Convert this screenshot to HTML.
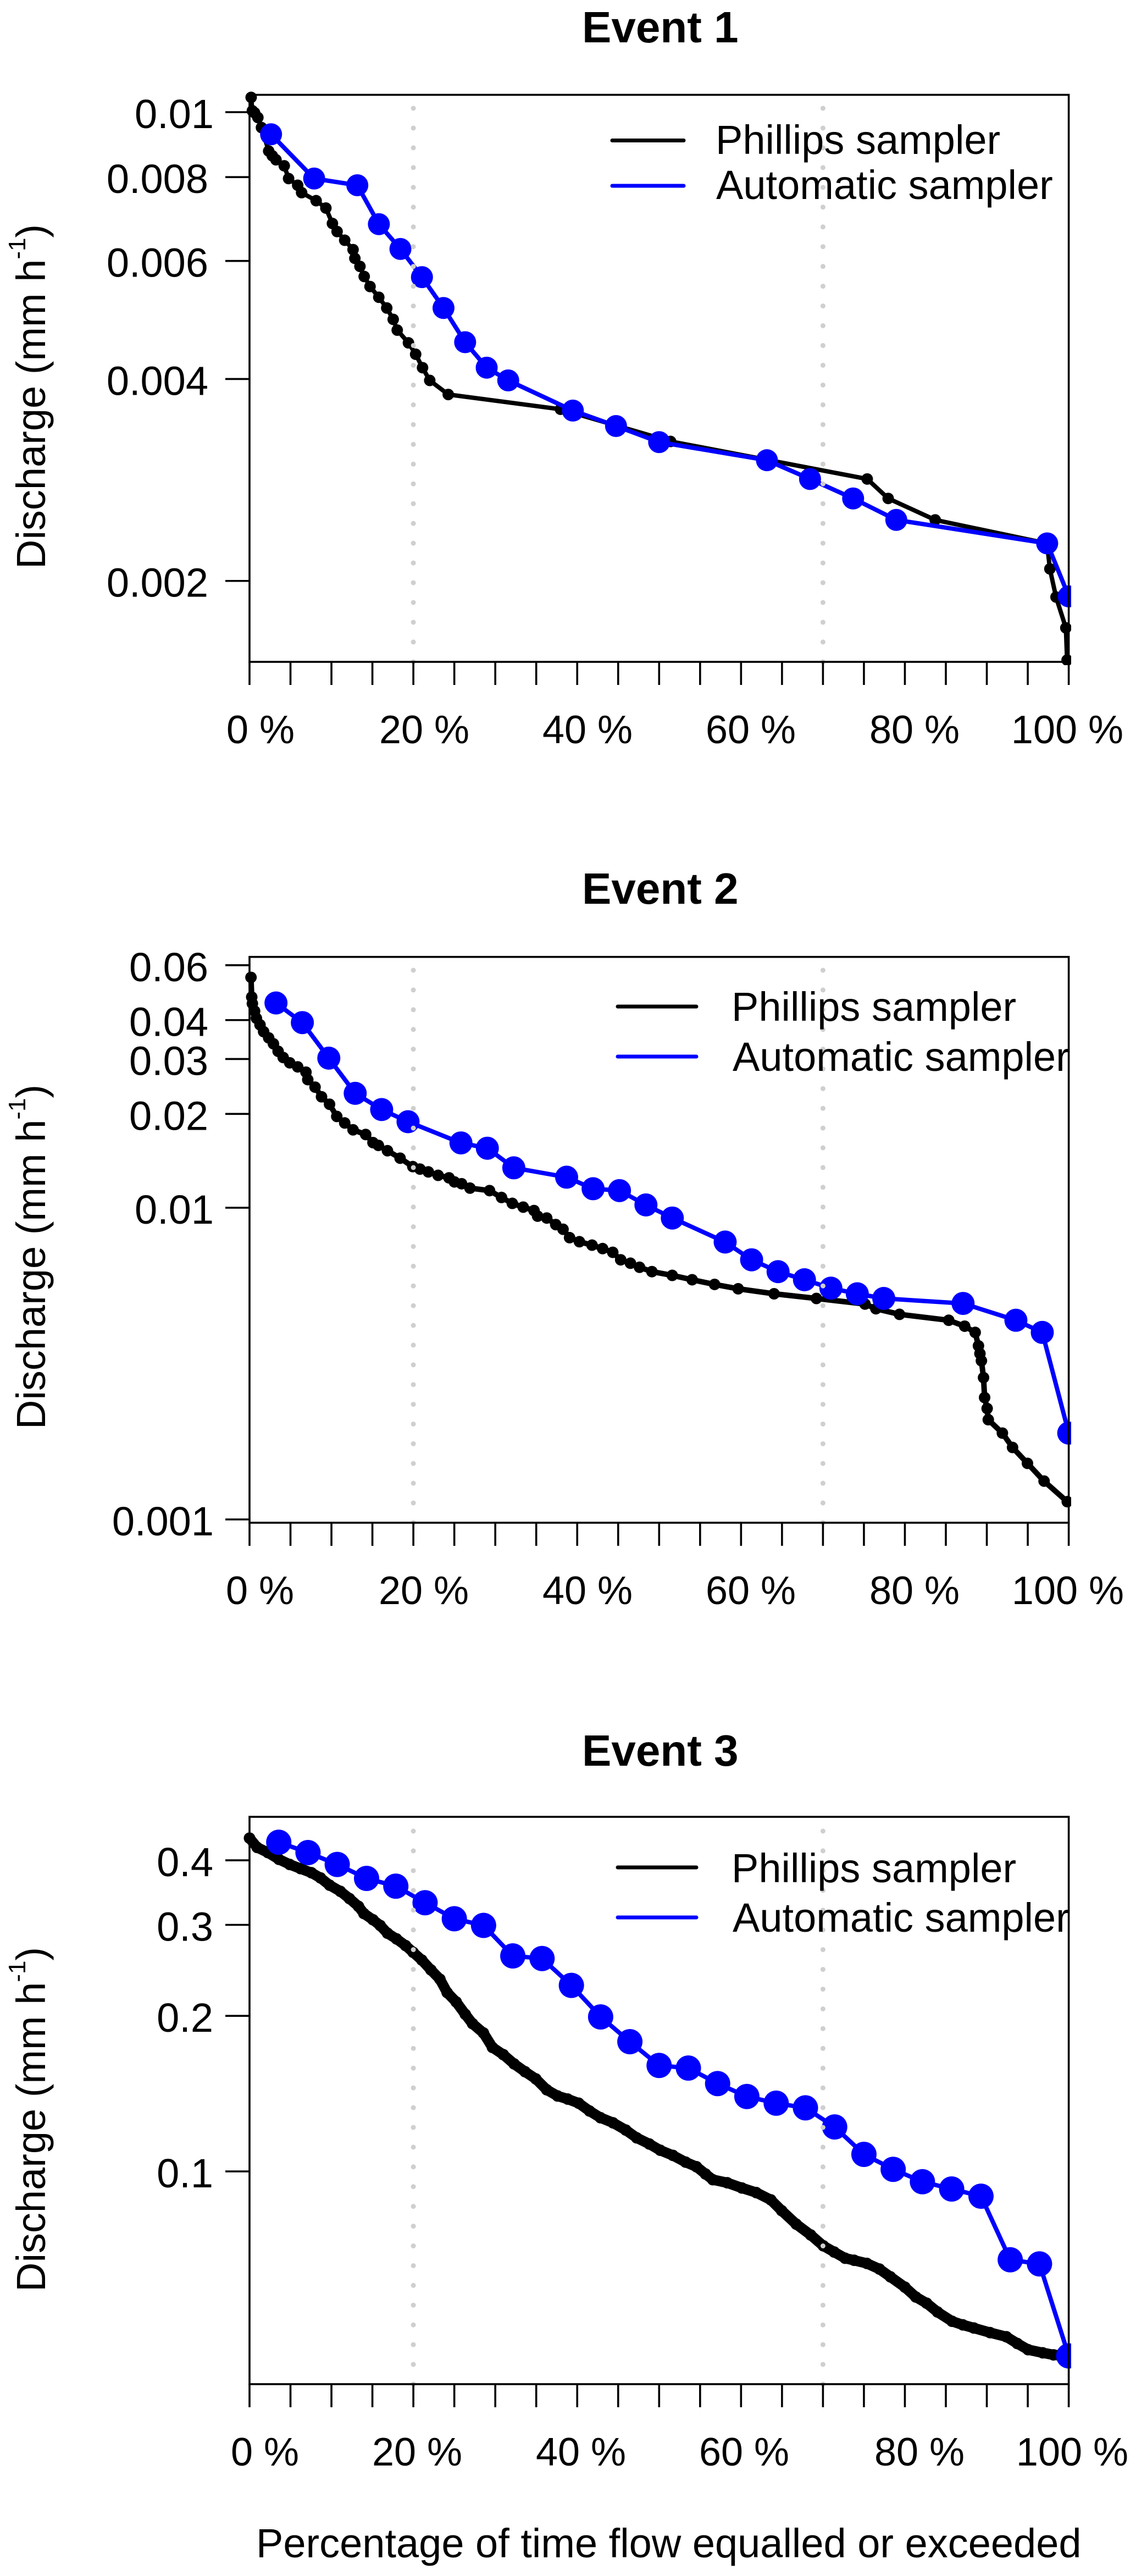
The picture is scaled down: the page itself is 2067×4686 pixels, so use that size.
<!DOCTYPE html>
<html lang="en">
<head>
<meta charset="utf-8">
<title>Flow duration curves: Phillips and automatic samplers</title>
<style>
html,body{margin:0;padding:0;background:#fff}
svg{display:block}
text{font-family:"Liberation Sans",Arial,sans-serif;fill:#000}
</style>
</head>
<body>
<svg id="figure" xmlns="http://www.w3.org/2000/svg" width="2067" height="4686" viewBox="0 0 2067 4686">
<rect x="0" y="0" width="2067" height="4686" fill="#fff"></rect>
<text x="466" y="4652" font-size="74">Percentage of time flow equalled or exceeded</text>
</svg>
<script>
// Shared axis content
const xTicks = [0,5,10,15,20,25,30,35,40,45,50,55,60,65,70,75,80,85,90,95,100];
const xLabels = ['0 %','20 %','40 %','60 %','80 %','100 %'];
const referenceLines = [20,70];
const seriesNames = ['Phillips sampler','Automatic sampler'];

// Event 1: percent exceedance and log10 discharge (mm/h)
const e1PhillipsPct = [0.2,0.35,0.62,1.02,1.46,2.34,2.78,3.23,4.24,4.77,5.88,6.36,8.13,9.32,10.12,10.69,11.62,12.64,12.86,13.48,14.0,14.71,15.78,16.75,17.54,18.03,19.4,20.28,21.12,22.0,24.26,37.96,51.4,75.4,77.96,83.7,97.35,97.7,98.45,99.65,99.8];
const e1PhillipsLogQ = [-1.978,-1.998,-2.001,-2.008,-2.023,-2.058,-2.065,-2.071,-2.080,-2.099,-2.109,-2.120,-2.132,-2.143,-2.166,-2.178,-2.191,-2.205,-2.218,-2.230,-2.245,-2.260,-2.276,-2.292,-2.309,-2.325,-2.344,-2.361,-2.381,-2.400,-2.421,-2.443,-2.491,-2.547,-2.576,-2.608,-2.643,-2.681,-2.723,-2.769,-2.817];
const e1AutoPct = [2.63,7.89,13.16,15.79,18.42,21.05,23.68,26.32,28.95,31.58,39.47,44.74,50,63.16,68.42,73.68,78.95,97.37,100];
const e1AutoLogQ = [-2.033,-2.099,-2.109,-2.167,-2.204,-2.246,-2.292,-2.343,-2.381,-2.400,-2.445,-2.468,-2.492,-2.519,-2.547,-2.576,-2.608,-2.643,-2.722];
const e1YTicks = [0.01,0.008,0.006,0.004,0.002];
const e1YLabels = ['0.01','0.008','0.006','0.004','0.002'];

// Event 2
const e2PhillipsPct = [0.18,0.27,0.35,0.62,0.84,1.28,1.72,2.34,2.92,3.49,4.11,4.91,5.88,6.89,7.11,8.0,8.79,9.77,10.65,11.62,12.64,14.18,15.07,15.73,16.84,18.38,19.93,20.81,21.83,23.02,24.35,25.01,25.89,26.91,29.3,30.76,32.08,33.41,34.73,35.17,36.28,37.38,38.27,39.07,40.27,41.81,43.1,44.34,45.31,46.5,47.61,49.12,51.6,54.03,56.77,59.65,64.03,69.2,75.13,76.46,79.34,85.35,87.3,88.58,88.98,89.16,89.34,89.6,89.73,90.04,90.18,91.9,93.14,94.96,96.99,99.82];
const e2PhillipsLogQ = [-1.261,-1.324,-1.345,-1.369,-1.392,-1.413,-1.435,-1.455,-1.474,-1.498,-1.518,-1.535,-1.548,-1.565,-1.589,-1.613,-1.644,-1.668,-1.707,-1.728,-1.750,-1.765,-1.791,-1.800,-1.817,-1.841,-1.868,-1.876,-1.885,-1.896,-1.904,-1.917,-1.923,-1.937,-1.945,-1.967,-1.986,-1.998,-2.009,-2.027,-2.033,-2.054,-2.069,-2.096,-2.109,-2.120,-2.131,-2.143,-2.167,-2.178,-2.191,-2.205,-2.217,-2.231,-2.246,-2.260,-2.276,-2.291,-2.309,-2.324,-2.342,-2.361,-2.380,-2.400,-2.443,-2.468,-2.491,-2.545,-2.609,-2.644,-2.680,-2.723,-2.769,-2.820,-2.877,-2.943];
const e2AutoPct = [3.23,6.45,9.68,12.9,16.13,19.35,25.81,29.03,32.26,38.71,41.94,45.16,48.39,51.61,58.06,61.29,64.52,67.74,70.97,74.19,77.42,87.1,93.55,96.77,100];
const e2AutoLogQ = [-1.343,-1.406,-1.520,-1.633,-1.685,-1.724,-1.792,-1.809,-1.872,-1.902,-1.939,-1.945,-1.991,-2.033,-2.110,-2.167,-2.205,-2.231,-2.258,-2.276,-2.291,-2.307,-2.361,-2.400,-2.723];
const e2YTicks = [0.06,0.04,0.03,0.02,0.01,0.001];
const e2YLabels = ['0.06','0.04','0.03','0.02','0.01','0.001'];

// Event 3
const e3PhillipsPct = [0,0.93,2.25,3.58,4.91,6.23,7.56,8.66,9.77,11.09,12.2,13.3,13.96,15.07,15.95,16.84,17.94,19.05,19.97,21.03,22.14,23.24,24.13,25.23,26.34,27.22,28.55,29.65,30.98,32.3,33.63,34.95,36.28,37.6,38.84,40.18,41.5,42.83,44.38,45.93,47.26,48.81,50.13,51.68,53.23,54.56,55.66,56.55,58.32,60.09,61.86,63.63,64.96,66.73,68.5,70.04,71.37,72.7,73.81,75.35,76.9,78.23,80.0,81.33,82.65,83.98,85.75,87.08,88.41,90.4,92.39,93.72,95.04,96.81,98.14,99.69];
const e3PhillipsLogQ = [-0.355,-0.373,-0.383,-0.396,-0.406,-0.414,-0.422,-0.432,-0.446,-0.458,-0.472,-0.487,-0.501,-0.513,-0.524,-0.539,-0.550,-0.563,-0.576,-0.591,-0.610,-0.628,-0.654,-0.672,-0.696,-0.714,-0.732,-0.760,-0.774,-0.792,-0.807,-0.821,-0.842,-0.854,-0.860,-0.868,-0.883,-0.896,-0.906,-0.920,-0.935,-0.947,-0.959,-0.969,-0.982,-0.991,-1.005,-1.016,-1.022,-1.032,-1.041,-1.055,-1.076,-1.102,-1.123,-1.144,-1.156,-1.168,-1.172,-1.178,-1.189,-1.204,-1.224,-1.243,-1.255,-1.272,-1.290,-1.297,-1.303,-1.312,-1.320,-1.333,-1.345,-1.351,-1.355,-1.357];
const e3AutoPct = [3.57,7.14,10.71,14.29,17.86,21.43,25,28.57,32.14,35.71,39.29,42.86,46.43,50,53.57,57.14,60.71,64.29,67.86,71.43,75,78.57,82.14,85.71,89.29,92.86,96.43,100];
const e3AutoLogQ = [-0.363,-0.383,-0.406,-0.433,-0.448,-0.480,-0.511,-0.524,-0.583,-0.588,-0.640,-0.701,-0.749,-0.795,-0.800,-0.830,-0.855,-0.868,-0.877,-0.914,-0.967,-0.996,-1.020,-1.034,-1.048,-1.171,-1.179,-1.357];
const e3YTicks = [0.4,0.3,0.2,0.1];
const e3YLabels = ['0.4','0.3','0.2','0.1'];

const SVGNS = 'http://www.w3.org/2000/svg';
const svg = document.getElementById('figure');

function make(tag, attrs, parent) {
  const node = document.createElementNS(SVGNS, tag);
  for (const key in attrs) node.setAttribute(key, attrs[key]);
  parent.appendChild(node);
  return node;
}

const X_LEFT = 454;
const X_SPAN = 1490.6;
function xScale(pct) { return X_LEFT + X_SPAN * pct / 100; }

function polyPoints(xs, ys, yScale) {
  return xs.map(function (x, i) { return xScale(x).toFixed(1) + ',' + yScale(ys[i]).toFixed(1); }).join(' ');
}

function drawPanel(p) {
  const yScale = function (logQ) { return p.refY + (p.refLog - logQ) * p.decade; };

  const panel = make('g', {}, svg);
  
  

  const clip = make('clipPath', { id: p.id + '-clip' }, panel);
  make('rect', { x: 442, y: p.top - 6, width: 1507, height: p.bottom - p.top + 12 }, clip);

  const title = make('text', { x: 1059, y: p.titleY, 'font-size': 80, 'font-weight': 'bold' }, panel);
  
  
  title.textContent = p.title;

  const plot = make('g', { 'clip-path': 'url(#' + p.id + '-clip)' }, panel);
  
  

  const blackLine = make('polyline', { points: polyPoints(p.blackX, p.blackY, yScale), fill: 'none', stroke: '#000', 'stroke-width': p.blackWidth, 'stroke-linejoin': 'round' }, plot);
  
  
  p.blackX.forEach(function (x, i) {
    const dot = make('circle', { cx: xScale(x), cy: yScale(p.blackY[i]), r: 10.5, fill: '#000' }, plot);
    
    
  });

  const blueLine = make('polyline', { points: polyPoints(p.blueX, p.blueY, yScale), fill: 'none', stroke: '#0000ff', 'stroke-width': 8, 'stroke-linejoin': 'round' }, plot);
  
  
  p.blueX.forEach(function (x, i) {
    const dot = make('circle', { cx: xScale(x), cy: yScale(p.blueY[i]), r: p.blueRadius, fill: '#0000ff' }, plot);
    
    
  });

  referenceLines.forEach(function (pct) {
    const step = (p.bottom - p.dotStart) / 28;
    const ref = make('line', { x1: xScale(pct), x2: xScale(pct), y1: p.dotStart, y2: p.bottom + 4, stroke: '#cfcfcf', 'stroke-width': 9, 'stroke-linecap': 'round', 'stroke-dasharray': '0 ' + step.toFixed(2) }, panel);
    
    
  });

  const box = make('rect', { x: X_LEFT, y: p.top, width: X_SPAN, height: p.bottom - p.top, fill: 'none', stroke: '#000', 'stroke-width': 3.6 }, panel);
  
  

  xTicks.forEach(function (t) {
    const tick = make('line', { x1: xScale(t), x2: xScale(t), y1: p.bottom, y2: p.bottom + 42, stroke: '#000', 'stroke-width': 3.6 }, panel);
    
    
  });
  xLabels.forEach(function (label, i) {
    const text = make('text', { x: p.xLabelCentres[i], y: p.bottom + 148, 'font-size': 72, 'text-anchor': 'middle' }, panel);
    
    
    text.textContent = label;
  });

  p.yTicks.forEach(function (q, i) {
    const y = yScale(Math.log10(q));
    const tick = make('line', { x1: 410, x2: X_LEFT, y1: y, y2: y, stroke: '#000', 'stroke-width': 3.6 }, panel);
    
    
    const endsInOne = p.yLabels[i].slice(-1) === '1';
    const text = make('text', { x: p.yLabelRight + (endsInOne ? p.oneShift : 0), y: y + 29, 'font-size': 74, 'text-anchor': 'end' }, panel);
    
    
    text.textContent = p.yLabels[i];
  });

  const yTitle = make('text', { transform: 'translate(82 ' + p.yTitleStart + ') rotate(-90)', 'font-size': 74 }, panel);
  
  
  make('tspan', {}, yTitle).textContent = 'Discharge (mm h';
  make('tspan', { dy: -36, 'font-size': 44 }, yTitle).textContent = '-1';
  make('tspan', { dy: 36 }, yTitle).textContent = ')';

  const legend = make('g', { 'clip-path': 'url(#' + p.id + '-clip)' }, panel);
  
  
  const colours = ['#000', '#0000ff'];
  seriesNames.forEach(function (name, i) {
    const swatch = make('line', { x1: p.legendLineX[0], x2: p.legendLineX[1], y1: p.legendLineY[i], y2: p.legendLineY[i], stroke: colours[i], 'stroke-width': 7, 'stroke-linecap': 'round' }, legend);
    
    
    const entry = make('text', { x: p.legendTextX[i], y: p.legendTextY[i], 'font-size': 74 }, legend);
    
    
    entry.textContent = name;
  });
}

drawPanel({
  id: 'event-1', title: 'Event 1', titleY: 77, top: 172.5, bottom: 1204, dotStart: 197,
  refY: 204, refLog: -2, decade: 1220, blackWidth: 8, blueRadius: 20,
  blackX: e1PhillipsPct, blackY: e1PhillipsLogQ, blueX: e1AutoPct, blueY: e1AutoLogQ,
  yTicks: e1YTicks, yLabels: e1YLabels, yLabelRight: 379, oneShift: 10, yTitleStart: 1035,
  xLabelCentres: [474, 772, 1069, 1366, 1664, 1942],
  legendLineX: [1114, 1244], legendLineY: [255.5, 338], legendTextX: [1302, 1303], legendTextY: [280, 362]
});
drawPanel({
  id: 'event-2', title: 'Event 2', titleY: 1644, top: 1740.7, bottom: 2770, dotStart: 1765,
  refY: 2197, refLog: -2, decade: 567, blackWidth: 10, blueRadius: 21,
  blackX: e2PhillipsPct, blackY: e2PhillipsLogQ, blueX: e2AutoPct, blueY: e2AutoLogQ,
  yTicks: e2YTicks, yLabels: e2YLabels, yLabelRight: 379, oneShift: 10, yTitleStart: 2600,
  xLabelCentres: [473, 771, 1069, 1366, 1664, 1943],
  legendLineX: [1124, 1267], legendLineY: [1831, 1922], legendTextX: [1331, 1333], legendTextY: [1857, 1948]
});
drawPanel({
  id: 'event-3', title: 'Event 3', titleY: 3212, top: 3305, bottom: 4337, dotStart: 3331,
  refY: 3950, refLog: -1, decade: 940, blackWidth: 19, blueRadius: 23,
  blackX: e3PhillipsPct, blackY: e3PhillipsLogQ, blueX: e3AutoPct, blueY: e3AutoLogQ,
  yTicks: e3YTicks, yLabels: e3YLabels, yLabelRight: 388, oneShift: 0, yTitleStart: 4169,
  xLabelCentres: [482, 759, 1057, 1354, 1673, 1951],
  legendLineX: [1124, 1267], legendLineY: [3397, 3488], legendTextX: [1331, 1333], legendTextY: [3424, 3514]
});
</script>
</body>
</html>
